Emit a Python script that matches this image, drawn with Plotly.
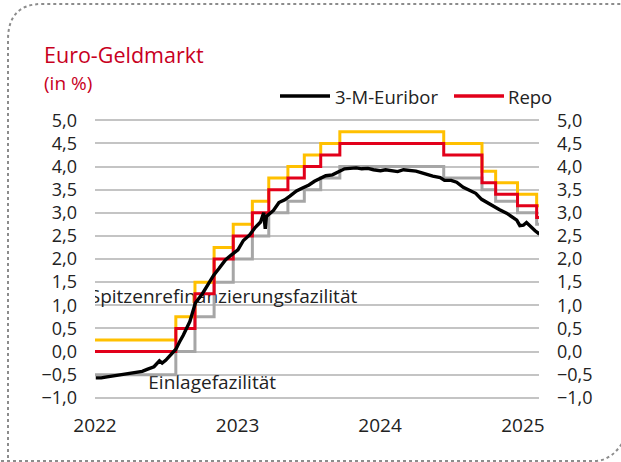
import plotly.graph_objects as go

# ---------------- data ----------------
euribor_dates = [
    "2022-01-03", "2022-01-17", "2022-02-01", "2022-02-15", "2022-03-01", "2022-03-15",
    "2022-04-01", "2022-04-19", "2022-05-02", "2022-05-16", "2022-06-01", "2022-06-15",
    "2022-06-22", "2022-07-01", "2022-07-15", "2022-07-27", "2022-08-05", "2022-08-15",
    "2022-09-01", "2022-09-15", "2022-10-03", "2022-10-14", "2022-11-01", "2022-11-15",
    "2022-12-01", "2022-12-15", "2023-01-02", "2023-01-16", "2023-02-01", "2023-02-15",
    "2023-03-01", "2023-03-09", "2023-03-13", "2023-03-16", "2023-04-03", "2023-04-17",
    "2023-05-02", "2023-05-15", "2023-06-01", "2023-06-15", "2023-07-03", "2023-07-17",
    "2023-08-01", "2023-08-15", "2023-09-01", "2023-09-15", "2023-10-02", "2023-10-16",
    "2023-11-01", "2023-11-15", "2023-12-01", "2023-12-15", "2024-01-02", "2024-01-15",
    "2024-02-01", "2024-02-15", "2024-03-01", "2024-03-15", "2024-04-02", "2024-04-15",
    "2024-05-02", "2024-05-15", "2024-06-03", "2024-06-14", "2024-07-01", "2024-07-15",
    "2024-08-01", "2024-08-15", "2024-09-02", "2024-09-17", "2024-10-01", "2024-10-17",
    "2024-11-01", "2024-11-20", "2024-12-05", "2024-12-16", "2024-12-24", "2025-01-02",
    "2025-01-10", "2025-01-20", "2025-02-01", "2025-02-12",
]
euribor_values = [
    -0.57, -0.57, -0.55, -0.53, -0.52, -0.50,
    -0.46, -0.45, -0.43, -0.38, -0.33, -0.20,
    -0.25, -0.19, -0.05, 0.05, 0.20, 0.35,
    0.65, 1.05, 1.25, 1.40, 1.65, 1.80,
    1.98, 2.08, 2.20, 2.40, 2.52, 2.68,
    2.80, 3.00, 2.65, 2.92, 3.05, 3.22,
    3.28, 3.36, 3.47, 3.53, 3.60, 3.68,
    3.75, 3.80, 3.82, 3.88, 3.95, 3.96,
    3.97, 3.95, 3.96, 3.93, 3.91, 3.93,
    3.91, 3.89, 3.93, 3.92, 3.90, 3.87,
    3.82, 3.79, 3.76, 3.70, 3.70, 3.66,
    3.55, 3.50, 3.42, 3.29, 3.22, 3.13,
    3.07, 2.99, 2.90, 2.84, 2.72, 2.73,
    2.79, 2.70, 2.61, 2.54,
]

rate_dates = [
    "2022-01-01", "2022-07-27", "2022-09-14", "2022-11-02", "2022-12-21", "2023-02-08",
    "2023-03-22", "2023-05-10", "2023-06-21", "2023-08-02", "2023-09-20", "2024-06-12",
    "2024-09-18", "2024-10-23", "2024-12-18", "2025-02-05", "2025-02-12",
]
einlage = [-0.50, 0.00, 0.75, 1.50, 2.00, 2.50, 3.00, 3.25, 3.50, 3.75, 4.00, 3.75,
           3.50, 3.25, 3.00, 2.75, 2.75]
repo = [0.00, 0.50, 1.25, 2.00, 2.50, 3.00, 3.50, 3.75, 4.00, 4.25, 4.50, 4.25,
        3.65, 3.40, 3.15, 2.90, 2.90]
spitzen = [0.25, 0.75, 1.50, 2.25, 2.75, 3.25, 3.75, 4.00, 4.25, 4.50, 4.75, 4.50,
           3.90, 3.65, 3.40, 3.15, 3.15]

year_ticks = ["2022-01-01", "2023-01-01", "2024-01-01", "2025-01-01"]
year_labels = ["2022", "2023", "2024", "2025"]

title = "Euro-Geldmarkt"
subtitle = "(in %)"
label_spitzen = "Spitzenrefinanzierungsfazilität"
label_einlage = "Einlagefazilität"

# ---------------- style ----------------
FONT = "Open Sans"
RED_TITLE = "#C8001E"
C_YELLOW = "#FFC000"
C_RED = "#E2001A"
C_GRAY = "#A6A6A6"
C_BLACK = "#000000"
TXT = "#222222"

W, H = 621, 462
ML, MR, MT, MB = 95, 82, 111, 55
PW, PH = W - ML - MR, H - MT - MB


def px(x):
    return (x - ML) / PW


def py(y):
    return (H - MB - y) / PH


fig = go.Figure()

# labels drawn first so lines lie on top
fig.add_trace(go.Scatter(
    x=["2022-11-26"], y=[1.16], mode="text", text=[label_spitzen],
    textfont=dict(family=FONT, size=19, color=TXT), showlegend=False, hoverinfo="skip"))
fig.add_trace(go.Scatter(
    x=["2022-10-28"], y=[-0.70], mode="text", text=[label_einlage],
    textfont=dict(family=FONT, size=19, color=TXT), showlegend=False, hoverinfo="skip"))

fig.add_trace(go.Scatter(x=rate_dates, y=einlage, mode="lines", line=dict(color=C_GRAY, width=3, shape="hv"),
                         name=label_einlage, showlegend=False))
fig.add_trace(go.Scatter(x=rate_dates, y=spitzen, mode="lines", line=dict(color=C_YELLOW, width=3, shape="hv"),
                         name=label_spitzen, showlegend=False))
fig.add_trace(go.Scatter(x=rate_dates, y=repo, mode="lines", line=dict(color=C_RED, width=3, shape="hv"),
                         name="Repo", showlegend=False))
fig.add_trace(go.Scatter(x=euribor_dates, y=euribor_values, mode="lines", line=dict(color=C_BLACK, width=3.4),
                         name="3-M-Euribor", showlegend=False, yaxis="y2"))

yr = [-1.2, 5.2]
common_y = dict(range=yr, dtick=0.5, tick0=0, tickformat=".1f", ticks="",
                tickfont=dict(family=FONT, size=18, color=TXT), zeroline=False,
                fixedrange=True, showline=False)

fig.update_layout(
    width=W, height=H,
    margin=dict(l=ML, r=MR, t=MT, b=MB, pad=0),
    paper_bgcolor="white", plot_bgcolor="white",
    separators=",.",
    showlegend=False,
    xaxis=dict(type="date", range=["2022-01-01", "2025-02-11"], tickvals=year_ticks, ticktext=year_labels,
               showgrid=False, zeroline=False, showline=False, ticks="outside", ticklen=1,
               tickcolor="rgba(0,0,0,0)", tickfont=dict(family=FONT, size=19, color=TXT), fixedrange=True),
    yaxis=dict(showgrid=True, gridcolor="#C4C4C4", gridwidth=2, side="left", ticklabelstandoff=17, **common_y),
    yaxis2=dict(showgrid=False, overlaying="y", side="right", ticklabelstandoff=17, **common_y),
)

# title texts
fig.add_annotation(text=title, xref="paper", yref="paper", x=px(42), y=py(54), xanchor="left", yanchor="middle",
                   showarrow=False, font=dict(family=FONT, size=21.5, color=RED_TITLE))
fig.add_annotation(text=subtitle, xref="paper", yref="paper", x=px(42), y=py(83), xanchor="left", yanchor="middle",
                   showarrow=False, font=dict(family=FONT, size=19, color=RED_TITLE))

# manual legend
fig.add_shape(type="line", xref="paper", yref="paper", x0=px(280), x1=px(330), y0=py(96), y1=py(96),
              line=dict(color=C_BLACK, width=3.5))
fig.add_annotation(text="3-M-Euribor", xref="paper", yref="paper", x=px(333), y=py(96), xanchor="left",
                   yanchor="middle", showarrow=False, font=dict(family=FONT, size=18.5, color=TXT))
fig.add_shape(type="line", xref="paper", yref="paper", x0=px(454), x1=px(504), y0=py(96), y1=py(96),
              line=dict(color=C_RED, width=3.5))
fig.add_annotation(text="Repo", xref="paper", yref="paper", x=px(506), y=py(96), xanchor="left",
                   yanchor="middle", showarrow=False, font=dict(family=FONT, size=18.5, color=TXT))

# dotted frame
top_path = f"M {px(8)},{py(470)} L {px(8)},{py(40)} Q {px(8)},{py(4)} {px(42)},{py(4)} L {px(630)},{py(4)}"
bot_path = f"M {px(-5)},{py(461)} L {px(594)},{py(461)} Q {px(614)},{py(461)} {px(626)},{py(436)}"
for p in (top_path, bot_path):
    fig.add_shape(type="path", path=p, xref="paper", yref="paper",
                  line=dict(color="#8C8C8C", width=2, dash="dot"))

fig.write_html("out.html", config={"displayModeBar": False, "staticPlot": True},
               post_script="document.body.style.margin='0px';")
